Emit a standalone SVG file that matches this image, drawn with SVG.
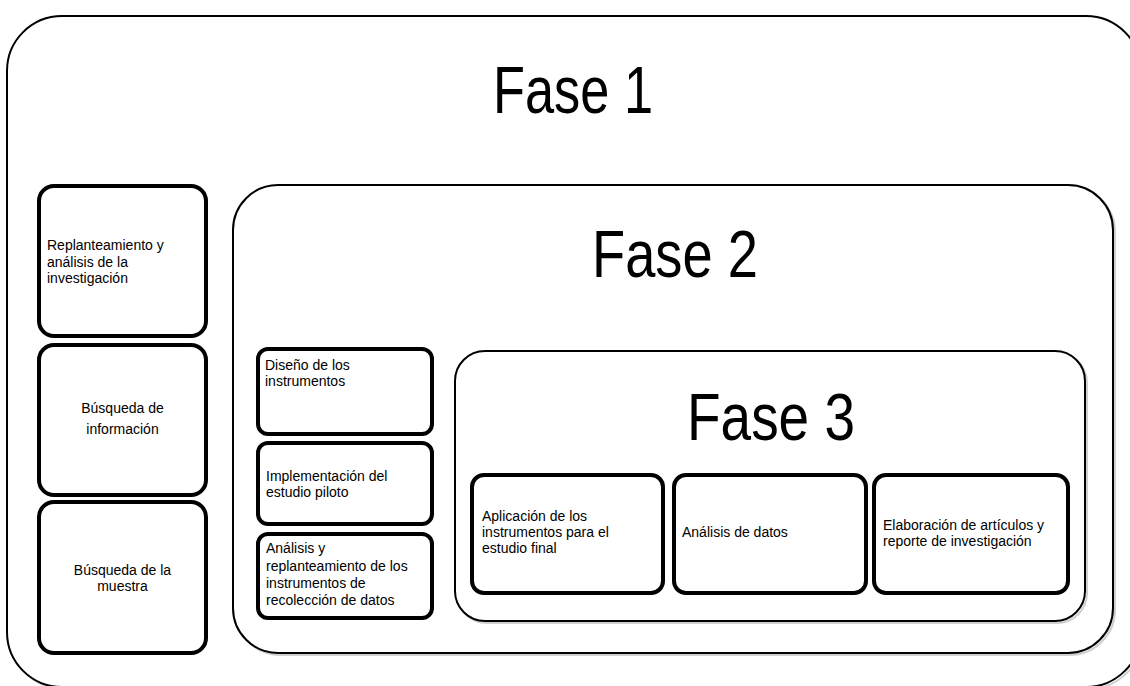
<svg xmlns="http://www.w3.org/2000/svg" width="1130" height="686" viewBox="0 0 1130 686">
  <defs>
    <style>
      .bg { fill: #ffffff; }
      .container { fill: #ffffff; stroke: #000000; stroke-width: 2; }
      .shadow { fill: none; stroke: #d0d0d0; stroke-width: 2; }
      .box { fill: #ffffff; stroke: #000000; stroke-width: 4; }
      .title { font-family: "Liberation Sans", Arial, sans-serif; font-size: 66px; fill: #000000; }
      .lbl { font-family: "Liberation Sans", Arial, sans-serif; font-size: 14px; fill: #000000; }
      .mid { text-anchor: middle; }
    </style>
  </defs>
  <rect class="bg" x="0" y="0" width="1130" height="686"/>

  <g id="fase1">
    <rect class="shadow" x="9" y="18" width="1134" height="671" rx="55" ry="55"/>
    <rect class="container" x="7" y="16" width="1134" height="671" rx="55" ry="55"/>
    <text class="title" x="493" y="113" textLength="160" lengthAdjust="spacingAndGlyphs">Fase 1</text>
  </g>

  <g id="n-replanteamiento">
    <rect class="box" x="39" y="186" width="167" height="150" rx="15" ry="15"/>
    <text class="lbl" x="47" y="250">Replanteamiento y</text>
    <text class="lbl" x="47" y="266.5">análisis de la</text>
    <text class="lbl" x="47" y="283">investigación</text>
  </g>

  <g id="n-busqueda-info">
    <rect class="box" x="39" y="345" width="167" height="150" rx="15" ry="15"/>
    <text class="lbl mid" x="122.5" y="413">Búsqueda de</text>
    <text class="lbl mid" x="122.5" y="434">información</text>
  </g>

  <g id="n-busqueda-muestra">
    <rect class="box" x="39" y="502" width="167" height="151" rx="15" ry="15"/>
    <text class="lbl mid" x="122.5" y="575">Búsqueda de la</text>
    <text class="lbl mid" x="122.5" y="591">muestra</text>
  </g>

  <g id="fase2">
    <rect class="shadow" x="235" y="187" width="880" height="468" rx="45" ry="45"/>
    <rect class="container" x="233" y="185" width="880" height="468" rx="45" ry="45"/>
    <text class="title" x="592" y="277" textLength="166" lengthAdjust="spacingAndGlyphs">Fase 2</text>
  </g>

  <g id="n-diseno">
    <rect class="box" x="258" y="349" width="174" height="85" rx="10" ry="10"/>
    <text class="lbl" x="265" y="370">Diseño de los</text>
    <text class="lbl" x="265" y="386">instrumentos</text>
  </g>

  <g id="n-implementacion">
    <rect class="box" x="258" y="443" width="174" height="81" rx="10" ry="10"/>
    <text class="lbl" x="266" y="481">Implementación del</text>
    <text class="lbl" x="266" y="497">estudio piloto</text>
  </g>

  <g id="n-analisis-replanteamiento">
    <rect class="box" x="258" y="534" width="174" height="84" rx="10" ry="10"/>
    <text class="lbl" x="266" y="553">Análisis y</text>
    <text class="lbl" x="266" y="570.5">replanteamiento de los</text>
    <text class="lbl" x="266" y="588">instrumentos de</text>
    <text class="lbl" x="266" y="605">recolección de datos</text>
  </g>

  <g id="fase3">
    <rect class="shadow" x="457" y="353" width="630" height="270" rx="30" ry="30"/>
    <rect class="container" x="455" y="351" width="630" height="270" rx="30" ry="30"/>
    <text class="title" x="687" y="440" textLength="168" lengthAdjust="spacingAndGlyphs">Fase 3</text>
  </g>

  <g id="n-aplicacion">
    <rect class="box" x="472" y="475" width="191" height="118" rx="12" ry="12"/>
    <text class="lbl" x="482" y="521">Aplicación de los</text>
    <text class="lbl" x="482" y="537">instrumentos para el</text>
    <text class="lbl" x="482" y="553">estudio final</text>
  </g>

  <g id="n-analisis-datos">
    <rect class="box" x="674" y="475" width="192" height="118" rx="12" ry="12"/>
    <text class="lbl" x="682" y="537">Análisis de datos</text>
  </g>

  <g id="n-elaboracion">
    <rect class="box" x="874" y="475" width="194" height="118" rx="12" ry="12"/>
    <text class="lbl" x="883" y="530">Elaboración de artículos y</text>
    <text class="lbl" x="883" y="546">reporte de investigación</text>
  </g>

  <g id="connectors"></g>
</svg>
